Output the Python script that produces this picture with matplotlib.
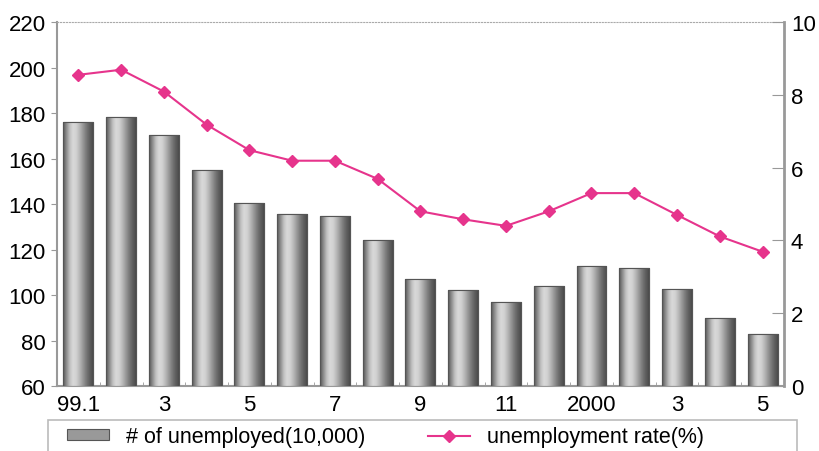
import matplotlib
matplotlib.use("Agg")
import matplotlib.pyplot as plt
import numpy as np
from matplotlib.patches import Patch, Rectangle
from matplotlib.lines import Line2D

plt.rcParams['font.family'] = ['Liberation Sans', 'DejaVu Sans']

# monthly data, 1999.1 - 2000.5
months = ['99.1', '', '3', '', '5', '', '7', '', '9', '', '11', '', '2000', '', '3', '', '5']
unemployed = [176.2, 178.4, 170.3, 155.1, 140.4, 135.6, 134.7, 124.0, 106.9,
              102.0, 97.1, 104.0, 112.7, 112.0, 102.6, 90.1, 83.0]
rate = [8.55, 8.69, 8.09, 7.18, 6.48, 6.19, 6.19, 5.69, 4.80,
        4.58, 4.40, 4.80, 5.30, 5.30, 4.70, 4.11, 3.69]

FS = 16
pink = '#e6348c'
x = np.arange(len(unemployed))
w = 0.7

fig = plt.figure(figsize=(8.2, 4.52), dpi=100)
ax = fig.add_axes([0.0695, 0.1438, 0.8865, 0.8052])

bars = ax.bar(x, unemployed, width=w, bottom=0, color='#aaaaaa',
              edgecolor='#555555', linewidth=0.8, zorder=2)

# cylinder-like shading inside every bar
grad = np.array([0.35, 0.55, 0.75, 0.85, 0.82, 0.72, 0.6, 0.48, 0.38, 0.3])
grad = np.interp(np.linspace(0, 9, 60), np.arange(10), grad)[None, :]
for b, v in zip(bars, unemployed):
    im = ax.imshow(grad, cmap='gray', vmin=0, vmax=1, aspect='auto',
                   extent=(b.get_x(), b.get_x() + w, 60, v), zorder=3,
                   interpolation='bilinear')
    im.set_clip_path(b)
    ax.add_patch(Rectangle((b.get_x(), 60), w, v - 60, fill=False,
                           edgecolor='#555555', linewidth=0.8, zorder=4))

ax.set_xlim(-0.5, len(x) - 0.5)
ax.set_ylim(60, 220)
ax.set_yticks(np.arange(60, 221, 20))
ax.set_xticks(x)
ax.set_xticklabels(months)
ax.set_xticks(np.arange(0.5, len(x) - 1, 1), minor=True)
ax.tick_params(axis='x', which='major', length=0, pad=6, labelsize=FS)
ax.tick_params(axis='x', which='minor', direction='in', length=3, color='#999999')
ax.tick_params(axis='y', direction='out', length=4, pad=4, labelsize=FS, color='#999999')

for s in ['left', 'bottom']:
    ax.spines[s].set_color('#999999')
    ax.spines[s].set_linewidth(1.5)
ax.spines['top'].set_color('#aaaaaa')
ax.spines['top'].set_linestyle(':')
ax.spines['right'].set_visible(False)

ax2 = ax.twinx()
ax2.plot(x, rate, color=pink, linewidth=1.5, marker='D', markersize=6,
         markerfacecolor=pink, markeredgecolor=pink, zorder=5)
ax2.set_ylim(0, 10)
ax2.set_yticks(np.arange(0, 11, 2))
ax2.tick_params(axis='y', direction='in', length=9, pad=5, labelsize=FS, color='#999999')
ax2.spines['right'].set_color('#999999')
ax2.spines['right'].set_linewidth(2)
for s in ['left', 'top', 'bottom']:
    ax2.spines[s].set_visible(False)

# legend box at the bottom (cut off by the image edge)
fig.patches.append(Rectangle((48 / 820, -0.05), 749 / 820, 0.05 + 31 / 452,
                             transform=fig.transFigure, fill=False,
                             edgecolor='#bbbbbb', linewidth=1.2))
handles = [Patch(facecolor='#999999', edgecolor='#555555', linewidth=0.8),
           Line2D([], [], color=pink, linewidth=1.5, marker='D', markersize=6)]
labels = ['# of unemployed(10,000)', 'unemployment rate(%)']
fig.legend(handles, labels, ncol=2, frameon=False, fontsize=15.5,
           loc='center left', bbox_to_anchor=(60 / 820 - 0.01, 1 - 438 / 452),
           handlelength=1.95, handleheight=0.4, handletextpad=0.8,
           columnspacing=2.9, borderpad=0.2)

fig.savefig('out.png', dpi=100)
